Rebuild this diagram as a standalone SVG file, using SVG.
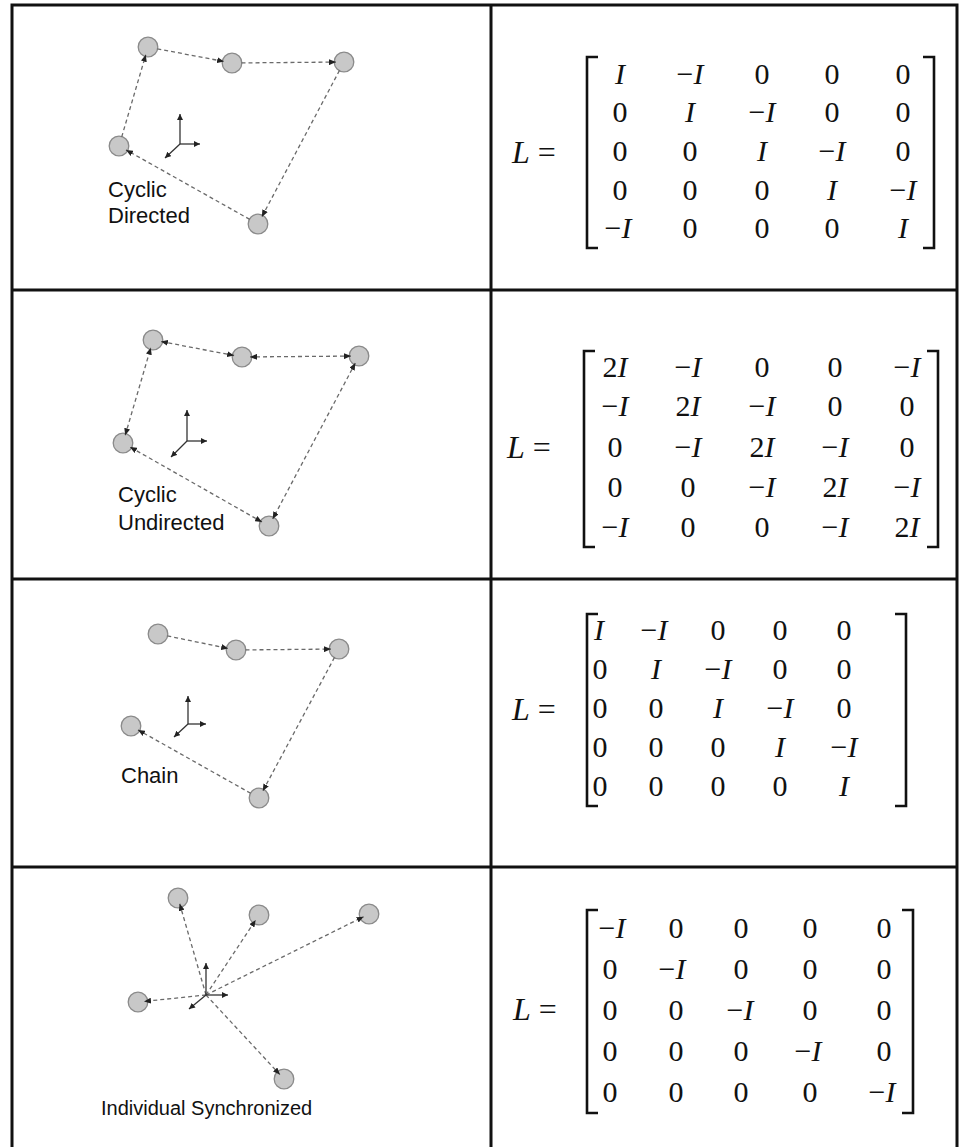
<svg xmlns="http://www.w3.org/2000/svg" width="959" height="1147" viewBox="0 0 959 1147">
<style>
.grid{stroke:#111;stroke-width:3;fill:none}
.node{fill:#c8c8c8;stroke:#8a8a8a;stroke-width:1.3}
.e{stroke:#6a6a6a;stroke-width:1.3;stroke-dasharray:4 3;fill:none}
.d{marker-end:url(#ah)}
.u{marker-start:url(#ah);marker-end:url(#ah)}
.ax{stroke:#333;stroke-width:1.3;fill:none;marker-end:url(#ax)}
.lbl{font-family:"Liberation Sans",Arial,sans-serif;font-size:22px;fill:#111}
.m{font-family:"Liberation Serif","Times New Roman",serif;font-size:30px;fill:#111;text-anchor:middle}
.eq{font-family:"Liberation Serif","Times New Roman",serif;font-size:32px;fill:#111}
.i{font-style:italic}
.br{stroke:#111;stroke-width:2.6;fill:none}
</style>
<defs>
<marker id="ah" markerUnits="userSpaceOnUse" markerWidth="7" markerHeight="6" refX="7" refY="3" orient="auto-start-reverse"><path d="M0,0 L7,3 L0,6 z" fill="#222"/></marker>
<marker id="ax" markerUnits="userSpaceOnUse" markerWidth="6" markerHeight="6" refX="6" refY="3" orient="auto"><path d="M0,0 L6,3 L0,6 z" fill="#222"/></marker>
</defs>
<rect width="959" height="1147" fill="#fff"/>
<g id="grid">
<path class="grid" d="M12,1147 V5 H957 V1147 M491,5 V1147 M12,290 H957 M12,579 H957 M12,867 H957"/>
</g>

<!-- Panel 1: Cyclic Directed -->
<g id="p1-nodes">
<circle id="p1-a" class="node" cx="148" cy="47" r="9.8"/>
<circle id="p1-b" class="node" cx="232" cy="63" r="9.8"/>
<circle id="p1-c" class="node" cx="344" cy="62" r="9.8"/>
<circle id="p1-d" class="node" cx="119" cy="146" r="9.8"/>
<circle id="p1-e" class="node" cx="258" cy="224" r="9.8"/>
</g>
<g id="p1-edges">
<line class="e d" x1="157.3" y1="48.8" x2="224.1" y2="61.5"/>
<line class="e d" x1="241.5" y1="62.9" x2="336" y2="62.1"/>
<line class="e d" x1="339.5" y1="70.4" x2="261.8" y2="216.9"/>
<line class="e d" x1="249.7" y1="219.4" x2="126" y2="149.9"/>
<line class="e d" x1="121.7" y1="136.9" x2="145.8" y2="54.7"/>
</g>
<g id="p1-axes">
<line class="ax" x1="180" y1="144" x2="180" y2="114"/>
<line class="ax" x1="180" y1="144" x2="200" y2="144"/>
<line class="ax" x1="180" y1="144" x2="165" y2="158"/>
</g>
<g id="p1-label"><text class="lbl" x="108" y="197">Cyclic</text><text class="lbl" x="108" y="223">Directed</text></g>

<!-- Panel 2: Cyclic Undirected -->
<g id="p2-nodes">
<circle id="p2-a" class="node" cx="153" cy="340" r="9.8"/>
<circle id="p2-b" class="node" cx="242" cy="357" r="9.8"/>
<circle id="p2-c" class="node" cx="359" cy="356" r="9.8"/>
<circle id="p2-d" class="node" cx="123" cy="443" r="9.8"/>
<circle id="p2-e" class="node" cx="269" cy="526" r="9.8"/>
</g>
<g id="p2-edges">
<line class="e u" x1="234.1" y1="355.5" x2="160.9" y2="341.5"/>
<line class="e u" x1="351" y1="356.1" x2="250" y2="356.9"/>
<line class="e u" x1="355.3" y1="363.1" x2="272.7" y2="518.9"/>
<line class="e u" x1="262" y1="522" x2="130" y2="447"/>
<line class="e u" x1="125.2" y1="435.3" x2="150.8" y2="347.7"/>
</g>
<g id="p2-axes">
<line class="ax" x1="187" y1="441" x2="187" y2="410"/>
<line class="ax" x1="187" y1="441" x2="207" y2="441"/>
<line class="ax" x1="187" y1="441" x2="171" y2="457"/>
</g>
<g id="p2-label"><text class="lbl" x="118" y="502">Cyclic</text><text class="lbl" x="118" y="530">Undirected</text></g>

<!-- Panel 3: Chain -->
<g id="p3-nodes">
<circle id="p3-a" class="node" cx="158" cy="634" r="9.8"/>
<circle id="p3-b" class="node" cx="236" cy="650" r="9.8"/>
<circle id="p3-c" class="node" cx="339" cy="649" r="9.8"/>
<circle id="p3-d" class="node" cx="131" cy="726" r="9.8"/>
<circle id="p3-e" class="node" cx="259" cy="798" r="9.8"/>
</g>
<g id="p3-edges">
<line class="e d" x1="167.3" y1="635.9" x2="228.2" y2="648.4"/>
<line class="e d" x1="245.5" y1="649.9" x2="331" y2="649.1"/>
<line class="e d" x1="334.5" y1="657.4" x2="262.8" y2="791"/>
<line class="e d" x1="250.7" y1="793.3" x2="138" y2="729.9"/>
</g>
<g id="p3-axes">
<line class="ax" x1="188" y1="724" x2="188" y2="696"/>
<line class="ax" x1="188" y1="724" x2="206" y2="724"/>
<line class="ax" x1="188" y1="724" x2="174" y2="737"/>
</g>
<g id="p3-label"><text class="lbl" x="121" y="783">Chain</text></g>

<!-- Panel 4: Individual Synchronized -->
<g id="p4-nodes">
<circle id="p4-n1" class="node" cx="178" cy="898" r="9.8"/>
<circle id="p4-n2" class="node" cx="259" cy="915" r="9.8"/>
<circle id="p4-n3" class="node" cx="369" cy="914" r="9.8"/>
<circle id="p4-n4" class="node" cx="138" cy="1002" r="9.8"/>
<circle id="p4-n5" class="node" cx="284" cy="1079" r="9.8"/>
</g>
<g id="p4-edges">
<line class="e d" x1="206" y1="995" x2="179.7" y2="903.8"/>
<line class="e d" x1="206" y1="995" x2="255.7" y2="920"/>
<line class="e d" x1="206" y1="995" x2="363.6" y2="916.7"/>
<line class="e d" x1="206" y1="995" x2="144" y2="1001.4"/>
<line class="e d" x1="206" y1="995" x2="279.9" y2="1074.6"/>
</g>
<g id="p4-axes">
<line class="ax" x1="206" y1="995" x2="206" y2="963"/>
<line class="ax" x1="206" y1="995" x2="228" y2="995"/>
<line class="ax" x1="206" y1="995" x2="189" y2="1009"/>
</g>
<g id="p4-label"><text class="lbl" x="101" y="1115" style="font-size:20px">Individual Synchronized</text></g>

<!-- Matrix 1 -->
<g id="m1">
<text class="eq" x="512" y="163"><tspan class="i">L</tspan> =</text>
<path class="br" d="M598,57 H587 V248 H598 M923,57 H934 V248 H923"/>
<text class="m" y="84"><tspan x="620" class="i">I</tspan><tspan x="690">−<tspan class="i">I</tspan></tspan><tspan x="762">0</tspan><tspan x="832">0</tspan><tspan x="903">0</tspan></text>
<text class="m" y="122"><tspan x="620">0</tspan><tspan x="690" class="i">I</tspan><tspan x="762">−<tspan class="i">I</tspan></tspan><tspan x="832">0</tspan><tspan x="903">0</tspan></text>
<text class="m" y="161"><tspan x="620">0</tspan><tspan x="690">0</tspan><tspan x="762" class="i">I</tspan><tspan x="832">−<tspan class="i">I</tspan></tspan><tspan x="903">0</tspan></text>
<text class="m" y="200"><tspan x="620">0</tspan><tspan x="690">0</tspan><tspan x="762">0</tspan><tspan x="832" class="i">I</tspan><tspan x="903">−<tspan class="i">I</tspan></tspan></text>
<text class="m" y="238"><tspan x="618">−<tspan class="i">I</tspan></tspan><tspan x="690">0</tspan><tspan x="762">0</tspan><tspan x="832">0</tspan><tspan x="903" class="i">I</tspan></text>
</g>

<!-- Matrix 2 -->
<g id="m2">
<text class="eq" x="507" y="458"><tspan class="i">L</tspan> =</text>
<path class="br" d="M595,351 H584 V547 H595 M927,351 H938 V547 H927"/>
<text class="m" y="377"><tspan x="615">2<tspan class="i">I</tspan></tspan><tspan x="688">−<tspan class="i">I</tspan></tspan><tspan x="762">0</tspan><tspan x="835">0</tspan><tspan x="907">−<tspan class="i">I</tspan></tspan></text>
<text class="m" y="416"><tspan x="615">−<tspan class="i">I</tspan></tspan><tspan x="688">2<tspan class="i">I</tspan></tspan><tspan x="762">−<tspan class="i">I</tspan></tspan><tspan x="835">0</tspan><tspan x="907">0</tspan></text>
<text class="m" y="457"><tspan x="615">0</tspan><tspan x="688">−<tspan class="i">I</tspan></tspan><tspan x="762">2<tspan class="i">I</tspan></tspan><tspan x="835">−<tspan class="i">I</tspan></tspan><tspan x="907">0</tspan></text>
<text class="m" y="497"><tspan x="615">0</tspan><tspan x="688">0</tspan><tspan x="762">−<tspan class="i">I</tspan></tspan><tspan x="835">2<tspan class="i">I</tspan></tspan><tspan x="907">−<tspan class="i">I</tspan></tspan></text>
<text class="m" y="537"><tspan x="615">−<tspan class="i">I</tspan></tspan><tspan x="688">0</tspan><tspan x="762">0</tspan><tspan x="835">−<tspan class="i">I</tspan></tspan><tspan x="907">2<tspan class="i">I</tspan></tspan></text>
</g>

<!-- Matrix 3 -->
<g id="m3">
<text class="eq" x="512" y="720"><tspan class="i">L</tspan> =</text>
<path class="br" d="M598,614 H587 V806 H598 M895,614 H906 V806 H895"/>
<text class="m" y="640"><tspan x="599" class="i">I</tspan><tspan x="654">−<tspan class="i">I</tspan></tspan><tspan x="718">0</tspan><tspan x="780">0</tspan><tspan x="844">0</tspan></text>
<text class="m" y="679"><tspan x="600">0</tspan><tspan x="656" class="i">I</tspan><tspan x="718">−<tspan class="i">I</tspan></tspan><tspan x="780">0</tspan><tspan x="844">0</tspan></text>
<text class="m" y="718"><tspan x="600">0</tspan><tspan x="656">0</tspan><tspan x="718" class="i">I</tspan><tspan x="780">−<tspan class="i">I</tspan></tspan><tspan x="844">0</tspan></text>
<text class="m" y="757"><tspan x="600">0</tspan><tspan x="656">0</tspan><tspan x="718">0</tspan><tspan x="780" class="i">I</tspan><tspan x="844">−<tspan class="i">I</tspan></tspan></text>
<text class="m" y="796"><tspan x="600">0</tspan><tspan x="656">0</tspan><tspan x="718">0</tspan><tspan x="780">0</tspan><tspan x="844" class="i">I</tspan></text>
</g>

<!-- Matrix 4 -->
<g id="m4">
<text class="eq" x="513" y="1020"><tspan class="i">L</tspan> =</text>
<path class="br" d="M598,910 H587 V1113 H598 M902,910 H913 V1113 H902"/>
<text class="m" y="938"><tspan x="612">−<tspan class="i">I</tspan></tspan><tspan x="676">0</tspan><tspan x="741">0</tspan><tspan x="810">0</tspan><tspan x="884">0</tspan></text>
<text class="m" y="979"><tspan x="610">0</tspan><tspan x="672">−<tspan class="i">I</tspan></tspan><tspan x="741">0</tspan><tspan x="810">0</tspan><tspan x="884">0</tspan></text>
<text class="m" y="1020"><tspan x="610">0</tspan><tspan x="676">0</tspan><tspan x="740">−<tspan class="i">I</tspan></tspan><tspan x="810">0</tspan><tspan x="884">0</tspan></text>
<text class="m" y="1061"><tspan x="610">0</tspan><tspan x="676">0</tspan><tspan x="741">0</tspan><tspan x="808">−<tspan class="i">I</tspan></tspan><tspan x="884">0</tspan></text>
<text class="m" y="1102"><tspan x="610">0</tspan><tspan x="676">0</tspan><tspan x="741">0</tspan><tspan x="810">0</tspan><tspan x="882">−<tspan class="i">I</tspan></tspan></text>
</g>
</svg>
